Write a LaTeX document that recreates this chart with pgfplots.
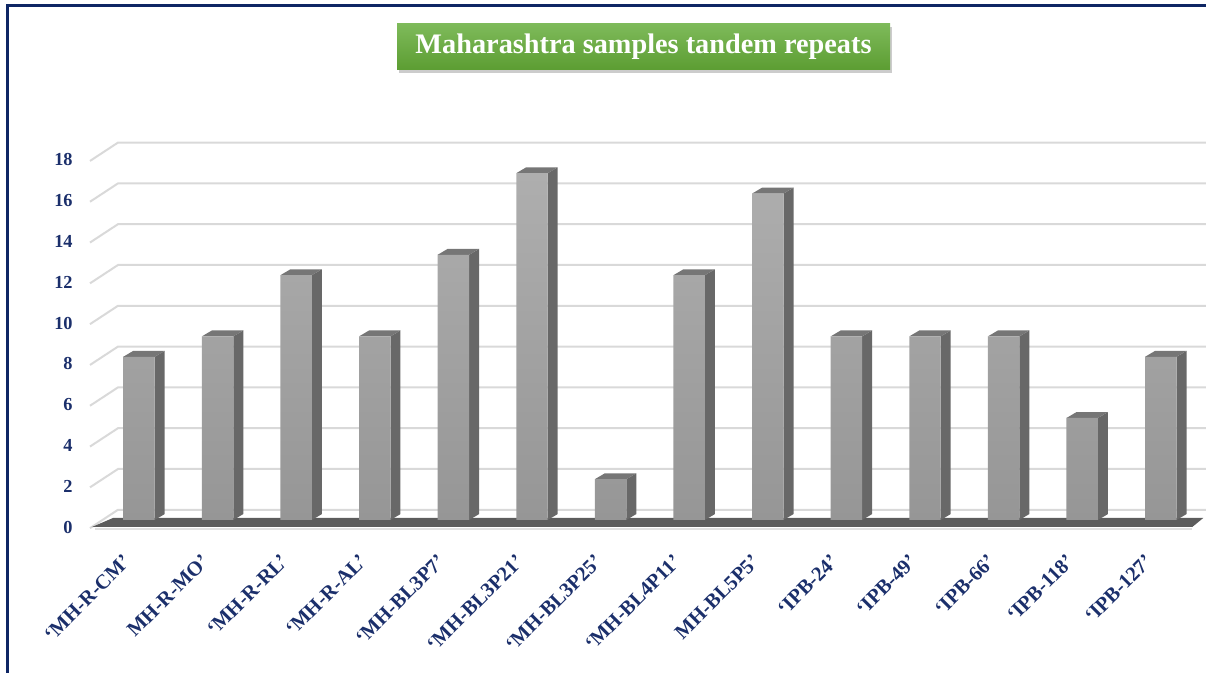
\documentclass[border=0pt]{standalone}
\usepackage{fontspec}
\setmainfont{Liberation Serif}
\usepackage{pgfplots}
\usepackage{pgfplotstable}
\pgfplotsset{compat=1.18}
\usetikzlibrary{shadows}
\definecolor{navy}{RGB}{27,47,107}
\definecolor{framenavy}{RGB}{14,38,100}
\definecolor{gridgray}{RGB}{217,217,217}
\definecolor{fronttop}{RGB}{174,174,174}
\definecolor{frontbot}{RGB}{150,150,150}
\definecolor{sidegray}{RGB}{104,104,104}
\definecolor{topgray}{RGB}{118,118,118}
\definecolor{floorgray}{RGB}{92,92,92}
\definecolor{floorline}{RGB}{224,224,224}
\definecolor{greentop}{RGB}{126,186,90}
\definecolor{greenbot}{RGB}{92,157,50}

\pgfplotstableread{
x y
0 8
1 9
2 12
3 9
4 13
5 17
6 2
7 12
8 16
9 9
10 9
11 9
12 5
13 8
}\datatable

\begin{document}
\begin{tikzpicture}
\begin{axis}[
  scale only axis, width=603bp, height=336.5bp,
  xmin=-1.768, xmax=13.575, ymin=-7.5, ymax=25.49,
  axis line style={draw=none},
  major tick length=0pt,
  xtick={0,...,13},
  xticklabels={‘MH-R-CM’, MH-R-MO’, ‘MH-R-RL’, ‘MH-R-AL’, ‘MH-BL3P7’, ‘MH-BL3P21’, ‘MH-BL3P25’, ‘MH-BL4P11’, MH-BL5P5’, ‘IPB-24’, ‘IPB-49’, ‘IPB-66’, ‘IPB-118’, ‘IPB-127’},
  xticklabel style={xshift=-6bp, yshift=57.5bp, rotate=45, anchor=east, inner sep=0pt, text=navy, font=\bfseries\fontsize{10.3}{10.3}\selectfont},
  ytick={-0.35,1.65,3.65,5.65,7.65,9.65,11.65,13.65,15.65,17.65},
  yticklabels={0,2,4,6,8,10,12,14,16,18},
  yticklabel style={anchor=east, inner sep=0pt, xshift=36.5bp, text=navy, font=\bfseries\fontsize{9.2}{9.2}\selectfont},
  /pgf/number format/assume math mode=true,
]
% back-wall gridlines
\pgfplotsinvokeforeach{0,2,4,6,8,10,12,14,16,18}{
  \pgfmathsetmacro\ga{#1-0.4}
  \pgfmathsetmacro\gb{#1+0.5}
  \edef\tmp{\noexpand\addplot[gridgray, line width=1bp, forget plot] coordinates {(-0.623,\ga) (-0.267,\gb) (13.575,\gb)};}
  \tmp
}
% floor
\addplot[draw=none, fill=floorgray, forget plot] coordinates {(-0.598,-0.343) (-0.331,0.098) (13.54,0.098) (13.40,-0.343)} -- cycle;
\addplot[floorline, line width=1bp, forget plot] coordinates {(-0.56,-0.46) (13.40,-0.46)};
% side and top faces of the bars
\pgfplotsinvokeforeach{0,...,13}{
  \pgfplotstablegetelem{#1}{y}\of\datatable
  \pgfmathsetmacro\yv{\pgfplotsretval}
  \pgfmathsetmacro\yt{\pgfplotsretval+0.29}
  \pgfmathsetmacro\xa{#1+0.2}
  \pgfmathsetmacro\xb{#1+0.327}
  \pgfmathsetmacro\xc{#1-0.2}
  \pgfmathsetmacro\xd{#1-0.073}
  \edef\tmp{\noexpand\addplot[draw=none, fill=sidegray, forget plot] coordinates {(\xa,0) (\xb,0.29) (\xb,\yt) (\xa,\yv)} -- cycle;
  \noexpand\addplot[draw=none, fill=topgray, forget plot] coordinates {(\xc,\yv) (\xd,\yt) (\xb,\yt) (\xa,\yv)} -- cycle;}
  \tmp
}
% front faces
\addplot[ybar, bar width=0.4, draw=none, top color=fronttop, bottom color=frontbot] table[x=x, y=y] {\datatable};
% title
\node[top color=greentop, bottom color=greenbot, minimum width=246.5bp, minimum height=23bp, inner sep=0pt, text=white, font=\bfseries\fontsize{14.2}{14.2}\selectfont, drop shadow={shadow xshift=0.8bp, shadow yshift=-1.4bp, opacity=0.4}] at (axis cs:6.419,23.19) {Maharashtra samples tandem repeats};
% frame
\draw[framenavy, line width=1.5bp, line join=miter] (axis cs:-1.673,-8) -- (axis cs:-1.673,25.2) -- (axis cs:14,25.2);
\end{axis}
\pgfresetboundingbox
\useasboundingbox (0,0) rectangle (603bp,336.5bp);
\end{tikzpicture}
\end{document}
